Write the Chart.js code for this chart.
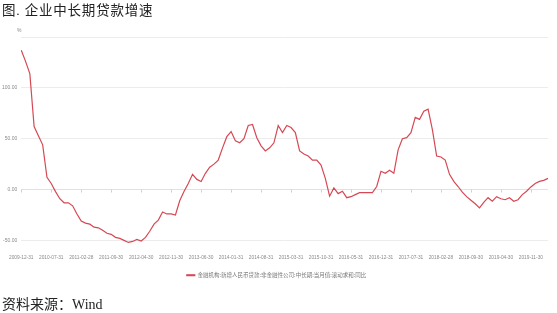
<!DOCTYPE html>
<html>
<head>
<meta charset="utf-8">
<script src="https://cdn.jsdelivr.net/npm/chart.js@4"></script>
<style>
  html, body { margin: 0; padding: 0; background: #fff; }
  #wrap { position: relative; width: 557px; height: 313px; overflow: hidden; }
  #title { position: absolute; left: 2px; top: -1px; font: 13.5px "Liberation Serif", "Noto Sans CJK SC", serif; letter-spacing: 0.8px; color: #222; white-space: nowrap; }
  #unit { position: absolute; left: 17px; top: 27px; font: 5px "Liberation Sans", sans-serif; color: #888; }
  #source { position: absolute; left: 2px; top: 293px; font: 14px "Liberation Serif", "Noto Sans CJK SC", serif; color: #222; white-space: nowrap; }
  #chartBox { position: absolute; left: 0; top: 0; width: 557px; height: 313px; }
</style>
</head>
<body>
<div id="wrap">
  <div id="chartBox"><canvas id="loanChart"></canvas></div>
  <div id="title">图. 企业中长期贷款增速</div>
  <div id="unit">%</div>
  <div id="source">资料来源：Wind</div>
</div>
<script>
// 月度日期 2009-12 ~ 2020-03
const months = [
  '2009-12-31','2010-01-31','2010-02-28','2010-03-31','2010-04-30','2010-05-31','2010-06-30','2010-07-31','2010-08-31','2010-09-30','2010-10-31','2010-11-30',
  '2010-12-31','2011-01-31','2011-02-28','2011-03-31','2011-04-30','2011-05-31','2011-06-30','2011-07-31','2011-08-31','2011-09-30','2011-10-31','2011-11-30',
  '2011-12-31','2012-01-31','2012-02-29','2012-03-31','2012-04-30','2012-05-31','2012-06-30','2012-07-31','2012-08-31','2012-09-30','2012-10-31','2012-11-30',
  '2012-12-31','2013-01-31','2013-02-28','2013-03-31','2013-04-30','2013-05-31','2013-06-30','2013-07-31','2013-08-31','2013-09-30','2013-10-31','2013-11-30',
  '2013-12-31','2014-01-31','2014-02-28','2014-03-31','2014-04-30','2014-05-31','2014-06-30','2014-07-31','2014-08-31','2014-09-30','2014-10-31','2014-11-30',
  '2014-12-31','2015-01-31','2015-02-28','2015-03-31','2015-04-30','2015-05-31','2015-06-30','2015-07-31','2015-08-31','2015-09-30','2015-10-31','2015-11-30',
  '2015-12-31','2016-01-31','2016-02-29','2016-03-31','2016-04-30','2016-05-31','2016-06-30','2016-07-31','2016-08-31','2016-09-30','2016-10-31','2016-11-30',
  '2016-12-31','2017-01-31','2017-02-28','2017-03-31','2017-04-30','2017-05-31','2017-06-30','2017-07-31','2017-08-31','2017-09-30','2017-10-31','2017-11-30',
  '2017-12-31','2018-01-31','2018-02-28','2018-03-31','2018-04-30','2018-05-31','2018-06-30','2018-07-31','2018-08-31','2018-09-30','2018-10-31','2018-11-30',
  '2018-12-31','2019-01-31','2019-02-28','2019-03-31','2019-04-30','2019-05-31','2019-06-30','2019-07-31','2019-08-31','2019-09-30','2019-10-31','2019-11-30',
  '2019-12-31','2020-01-31','2020-02-29','2020-03-31'
];

// 金融机构:新增人民币贷款:非金融性公司:中长期:当月值:滚动求和:同比 (%)
const loanGrowth = [
  137, 126, 114, 62, 53, 44, 12, 6, -2, -9, -13, -13,
  -16, -24, -31, -33, -34, -37, -37.6, -40, -43, -44, -47, -48,
  -50, -52, -51, -49, -50.6, -47, -41, -34, -30, -22, -24, -24,
  -25, -11, -2, 6, 15, 10, 8, 16, 22, 25, 29, 41,
  52, 57, 48, 46, 50, 63, 64, 51, 43, 38, 41, 46,
  63, 56, 63, 61, 56, 38, 35, 33, 29, 29, 24, 11,
  -6.5, 1.6, -4, -1.6, -8, -7, -5, -3, -3, -3, -3, 3,
  18, 16, 19, 16, 39, 50, 51, 56, 71, 69, 77, 79,
  59, 33, 32, 29, 15, 8, 3, -2.6, -7, -10.5, -14, -18,
  -12.5, -8, -11.5, -7, -9, -10, -8, -11.5, -10, -5, -1.6, 2.6,
  6, 8, 9, 11
];

const yTicks = [-50, 0, 50, 100, 150];
const labelEvery = 7;
const seriesName = '金融机构:新增人民币贷款:非金融性公司:中长期:当月值:滚动求和:同比';

const COLORS = {
  line: 'rgb(214, 72, 84)',
  grid: '#ececec',
  zero: '#d6e5ea',
  tick: '#8a8a8a'
};

// 零轴上的小刻度
const zeroTicks = {
  id: 'zeroTicks',
  afterDatasetsDraw(chart) {
    const x = chart.scales.x, y = chart.scales.y, ctx = chart.ctx;
    const y0 = y.getPixelForValue(0);
    ctx.save();
    ctx.strokeStyle = '#c3d6dd';
    ctx.lineWidth = 1;
    for (let i = 0; i < months.length; i += labelEvery) {
      const px = Math.round(x.getPixelForValue(i)) + 0.5;
      ctx.beginPath();
      ctx.moveTo(px, y0);
      ctx.lineTo(px, y0 + 3);
      ctx.stroke();
    }
    ctx.restore();
  }
};

new Chart(document.getElementById('loanChart'), {
  type: 'line',
  data: {
    labels: months,
    datasets: [{
      label: seriesName,
      data: loanGrowth,
      borderColor: COLORS.line,
      backgroundColor: COLORS.line,
      borderWidth: 1.2,
      pointRadius: 0,
      tension: 0,
      fill: false
    }]
  },
  options: {
    responsive: true,
    maintainAspectRatio: false,
    animation: false,
    layout: { padding: { top: 37, right: 4, left: 0, bottom: 25 } },
    plugins: {
      legend: {
        position: 'bottom',
        labels: {
          boxWidth: 8,
          boxHeight: 1,
          padding: 6,
          color: '#777',
          font: { size: 5.5, family: 'Noto Sans CJK SC' }
        }
      },
      tooltip: { enabled: false }
    },
    scales: {
      x: {
        offset: false,
        grid: { display: false, drawTicks: false },
        border: { display: false },
        ticks: {
          autoSkip: false,
          maxRotation: 0,
          minRotation: 0,
          padding: 9,
          color: COLORS.tick,
          font: { size: 4.8, family: 'Liberation Sans' },
          callback: function(value, index) {
            return index % labelEvery === 0 ? months[index] : '';
          }
        },
        afterFit: function(scale) { scale.height = 21; }
      },
      y: {
        min: -55,
        max: 150,
        afterBuildTicks: function(scale) {
          scale.ticks = yTicks.map(v => ({ value: v }));
        },
        grid: {
          drawTicks: false,
          color: ctx => ctx.tick && ctx.tick.value === 0 ? COLORS.zero : COLORS.grid
        },
        border: { display: false },
        ticks: {
          padding: 4,
          color: COLORS.tick,
          font: { size: 5, family: 'Liberation Sans' },
          callback: v => v === 150 ? '' : v.toFixed(2)
        },
        afterFit: function(scale) { scale.width = 21; }
      }
    }
  },
  plugins: [zeroTicks]
});
</script>
</body>
</html>
